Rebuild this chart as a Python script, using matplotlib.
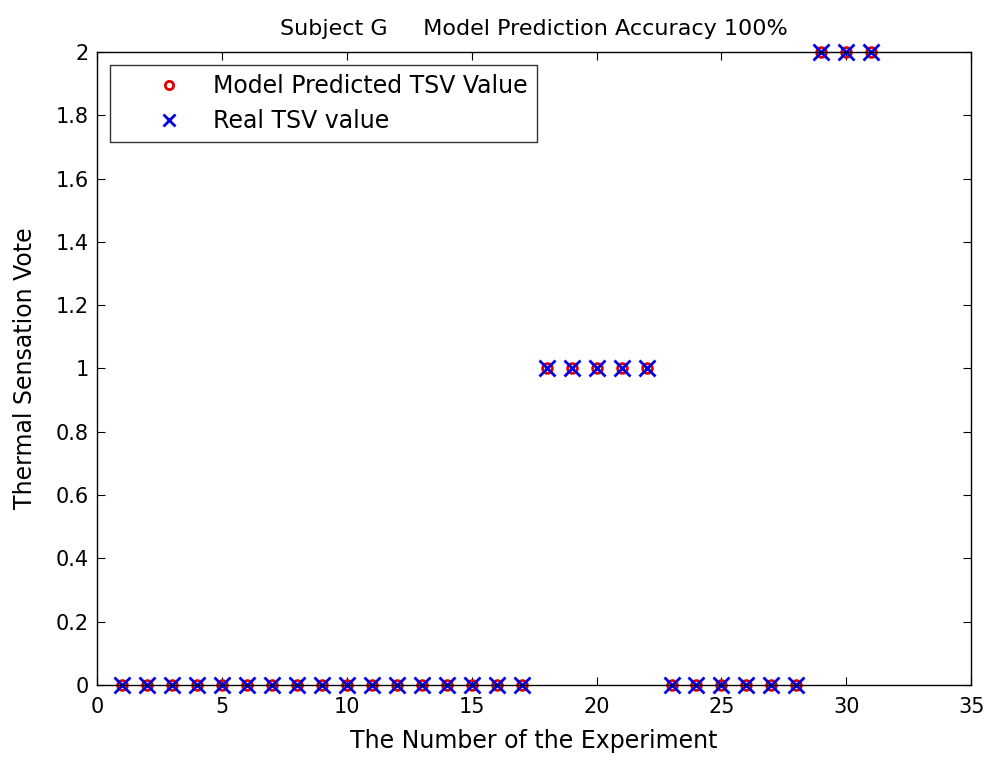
import numpy as np
import matplotlib.pyplot as plt

plt.rcParams['font.family'] = ['DejaVu Sans']

experiment = np.arange(1, 32)
predicted_tsv = [0]*17 + [1]*5 + [0]*6 + [2]*3
real_tsv = [0]*17 + [1]*5 + [0]*6 + [2]*3

fig = plt.figure(figsize=(9.91, 7.6), dpi=100)
ax = fig.add_axes([0.098, 0.0987, 0.882, 0.8329])

ax.plot(experiment, predicted_tsv, 'o', color='#e00000', markerfacecolor='none',
        markersize=7, markeredgewidth=2, label='Model Predicted TSV Value', clip_on=False)
ax.plot(experiment, real_tsv, 'x', color='#0000e0', markersize=11,
        markeredgewidth=2, label='Real TSV value', clip_on=False)

ax.set_xlim(0, 35)
ax.set_ylim(0, 2)
ax.set_xticks(np.arange(0, 36, 5))
ax.set_yticks(np.arange(0, 2.01, 0.2))
ax.set_yticklabels(['0', '0.2', '0.4', '0.6', '0.8', '1', '1.2', '1.4', '1.6', '1.8', '2'])
ax.tick_params(direction='in', top=True, right=True, labelsize=15, length=6)
ax.tick_params(axis='x', pad=9)
ax.tick_params(axis='y', pad=6)
for s in ax.spines.values():
    s.set_linewidth(1)

ax.set_xlabel('The Number of the Experiment', fontsize=17, labelpad=8)
ax.set_ylabel('Thermal Sensation Vote', fontsize=17, labelpad=13)
ax.set_title('Subject G     Model Prediction Accuracy 100%', fontsize=16, pad=12)

leg = ax.legend(loc='upper left', fontsize=17, fancybox=False, edgecolor='black',
                borderaxespad=0.55, handletextpad=-0.24, borderpad=0.4, labelspacing=0.45,
                markerscale=0.85, handlelength=4.2)
leg.get_frame().set_linewidth(1)

fig.savefig('out.png', dpi=100)
